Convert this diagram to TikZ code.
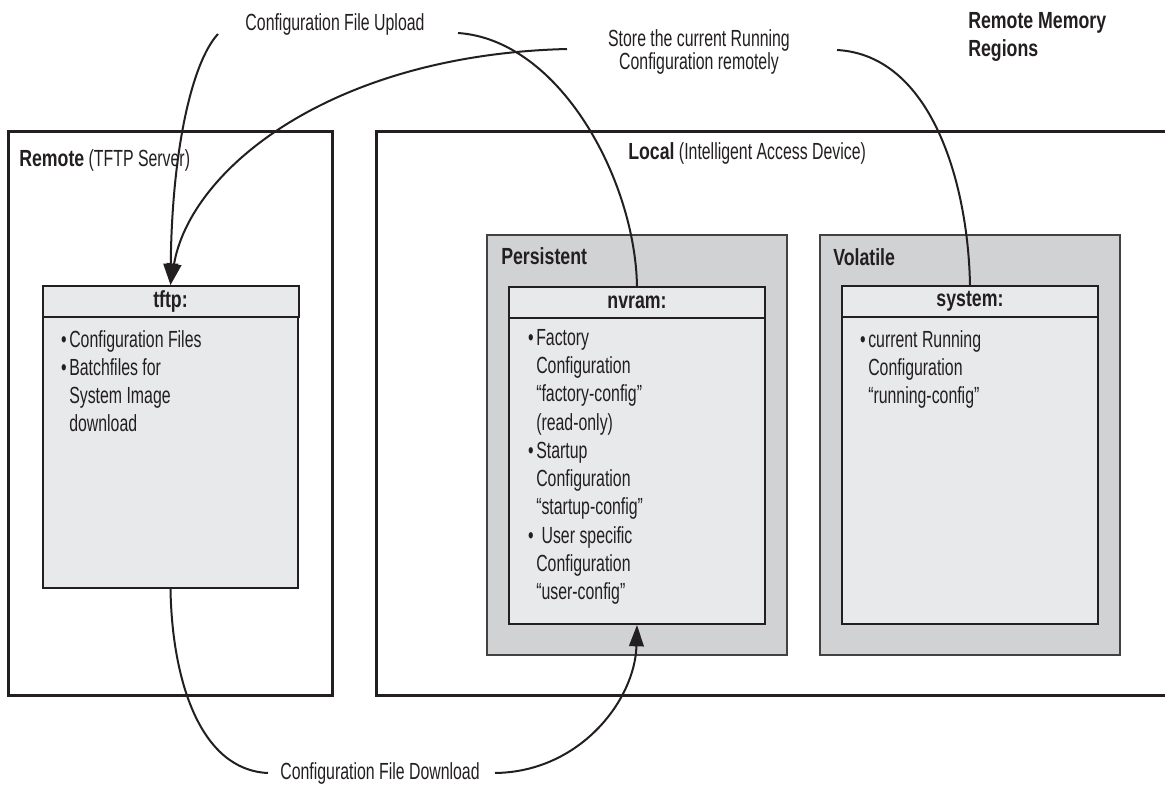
\documentclass[tikz,border=0pt]{standalone}
\usepackage{fontspec}
\setmainfont[FakeStretch=0.68,BoldFeatures={FakeStretch=0.76}]{Liberation Sans}
\usetikzlibrary{
arrows.meta,
positioning
}
\definecolor{ink}{HTML}{231F20}
\definecolor{regiongray}{HTML}{D1D2D4}
\definecolor{memgray}{HTML}{E8E9EA}
\tikzset{
  lbl/.style={
    inner sep=0pt,
    text=ink,
    font=\fontsize{17.5pt}{21.2pt}\selectfont
  },
  % bullet list inside a memory box
  itemtext/.style={lbl, align=left, anchor=north west}
}
\newcommand{\itm}{\llap{\textbullet\hspace{2pt}}}

\begin{document}
\begin{tikzpicture}[
    x=0.75pt, y=-0.75pt,
    box/.style 2 args={
      minimum width=#1*0.75pt,
      minimum height=#2*0.75pt,
      inner sep=0pt
    },
    area/.style={
      draw=ink,
      line width=2.25pt
    },
    region/.style={
      draw=ink!85,
      line width=1.3pt,
      fill=regiongray
    },
    memory/.style={
      draw=ink,
      line width=1.5pt,
      fill=memgray
    },
    memhead/.style={
      memory,
      box={256}{31},
      anchor=north,
      lbl
    },
    transfer/.style={
      draw=ink,
      line width=1.5pt
    },
    arrowtip/.style={
      -{Triangle[length=16pt,width=11pt]}
    }
  ]
  \path[use as bounding box] (0,0) rectangle (1165,787);
  % areas
  \node[area,box={324}{564}] (remote) at (170,414) {};
  \draw[area] (1180,132) -| (376,696) -- (1180,696);
  \node[region,box={300}{420}] (persistent) at (637,445) {};
  \node[region,box={300}{420}] (volatile) at (970,445) {};
  % memory boxes
  \node[memory,box={255}{302}] (tftp) at (170.5,437) {};
  \node[memory,box={256}{337}] (nvram) at (637,455.5) {};
  \node[memory,box={256}{338}] (system) at (970,455) {};
  \node[memhead] (tftphd) at (tftp.north) {\textbf{tftp:}};
  \node[memhead] (nvramhd) at (nvram.north) {\textbf{nvram:}};
  \node[memhead] (systemhd) at (system.north) {\textbf{system:}};
  % labels
  \node[lbl,anchor=west] (remotelbl) at (19,160) {\textbf{Remote} (TFTP Server)};
  \node[lbl,anchor=west] (locallbl) at (628,153) {\textbf{Local} (Intelligent Access Device)};
  \node[lbl,anchor=west] (perslbl) at (501,256) {\textbf{Persistent}};
  \node[lbl,anchor=west] (vollbl) at (833,257) {\textbf{Volatile}};
  \node[itemtext] (tftptxt) at (69,330) {\itm Configuration Files\\\itm Batchfiles for\\System Image\\download};
  \node[itemtext] (nvramtxt) at (536,329) {\itm Factory\\Configuration\\“factory-config”\\(read-only)\\\itm Startup\\Configuration\\“startup-config”\\\itm\hspace{4pt}User specific\\Configuration\\“user-config”};
  \node[itemtext] (systemtxt) at (868,330) {\itm current Running\\Configuration\\“running-config”};
  \node[lbl,align=left,anchor=north west] (regions) at (968,12) {\textbf{Remote Memory}\\\textbf{Regions}};
  \node[lbl,align=center,font=\fontsize{17.5pt}{17.5pt}\selectfont] (store) at (699,52) {Store the current Running\\Configuration remotely};
  \node[lbl] (upload) at (335,24) {Configuration File Upload};
  \node[lbl] (download) at (380,773) {Configuration File Download};
  % free ends of the transfers
  \coordinate (upA) at (218,34);
  \coordinate (upB) at (458,33);
  \coordinate (storeA) at (567,49);
  \coordinate (storeB) at (837,50);
  \coordinate (downA) at (268,773);
  \coordinate (downB) at (495,773);
  % transfers
  \draw[transfer,arrowtip] (upA) .. controls (192,62) and (172,150) .. (tftp.north);
  \draw[transfer] (upB) .. controls (560,40) and (635,180) .. (nvram.north);
  \draw[transfer,arrowtip] (storeA) .. controls (330,55) and (190,170) .. (tftp.north);
  \draw[transfer] (storeB) .. controls (930,55) and (968,180) .. (system.north);
  \draw[transfer] (downA) .. controls (200,770) and (172,680) .. (tftp.south);
  \draw[transfer,arrowtip] (downB) .. controls (580,772) and (635,700) .. (nvram.south);
\end{tikzpicture}
\end{document}
